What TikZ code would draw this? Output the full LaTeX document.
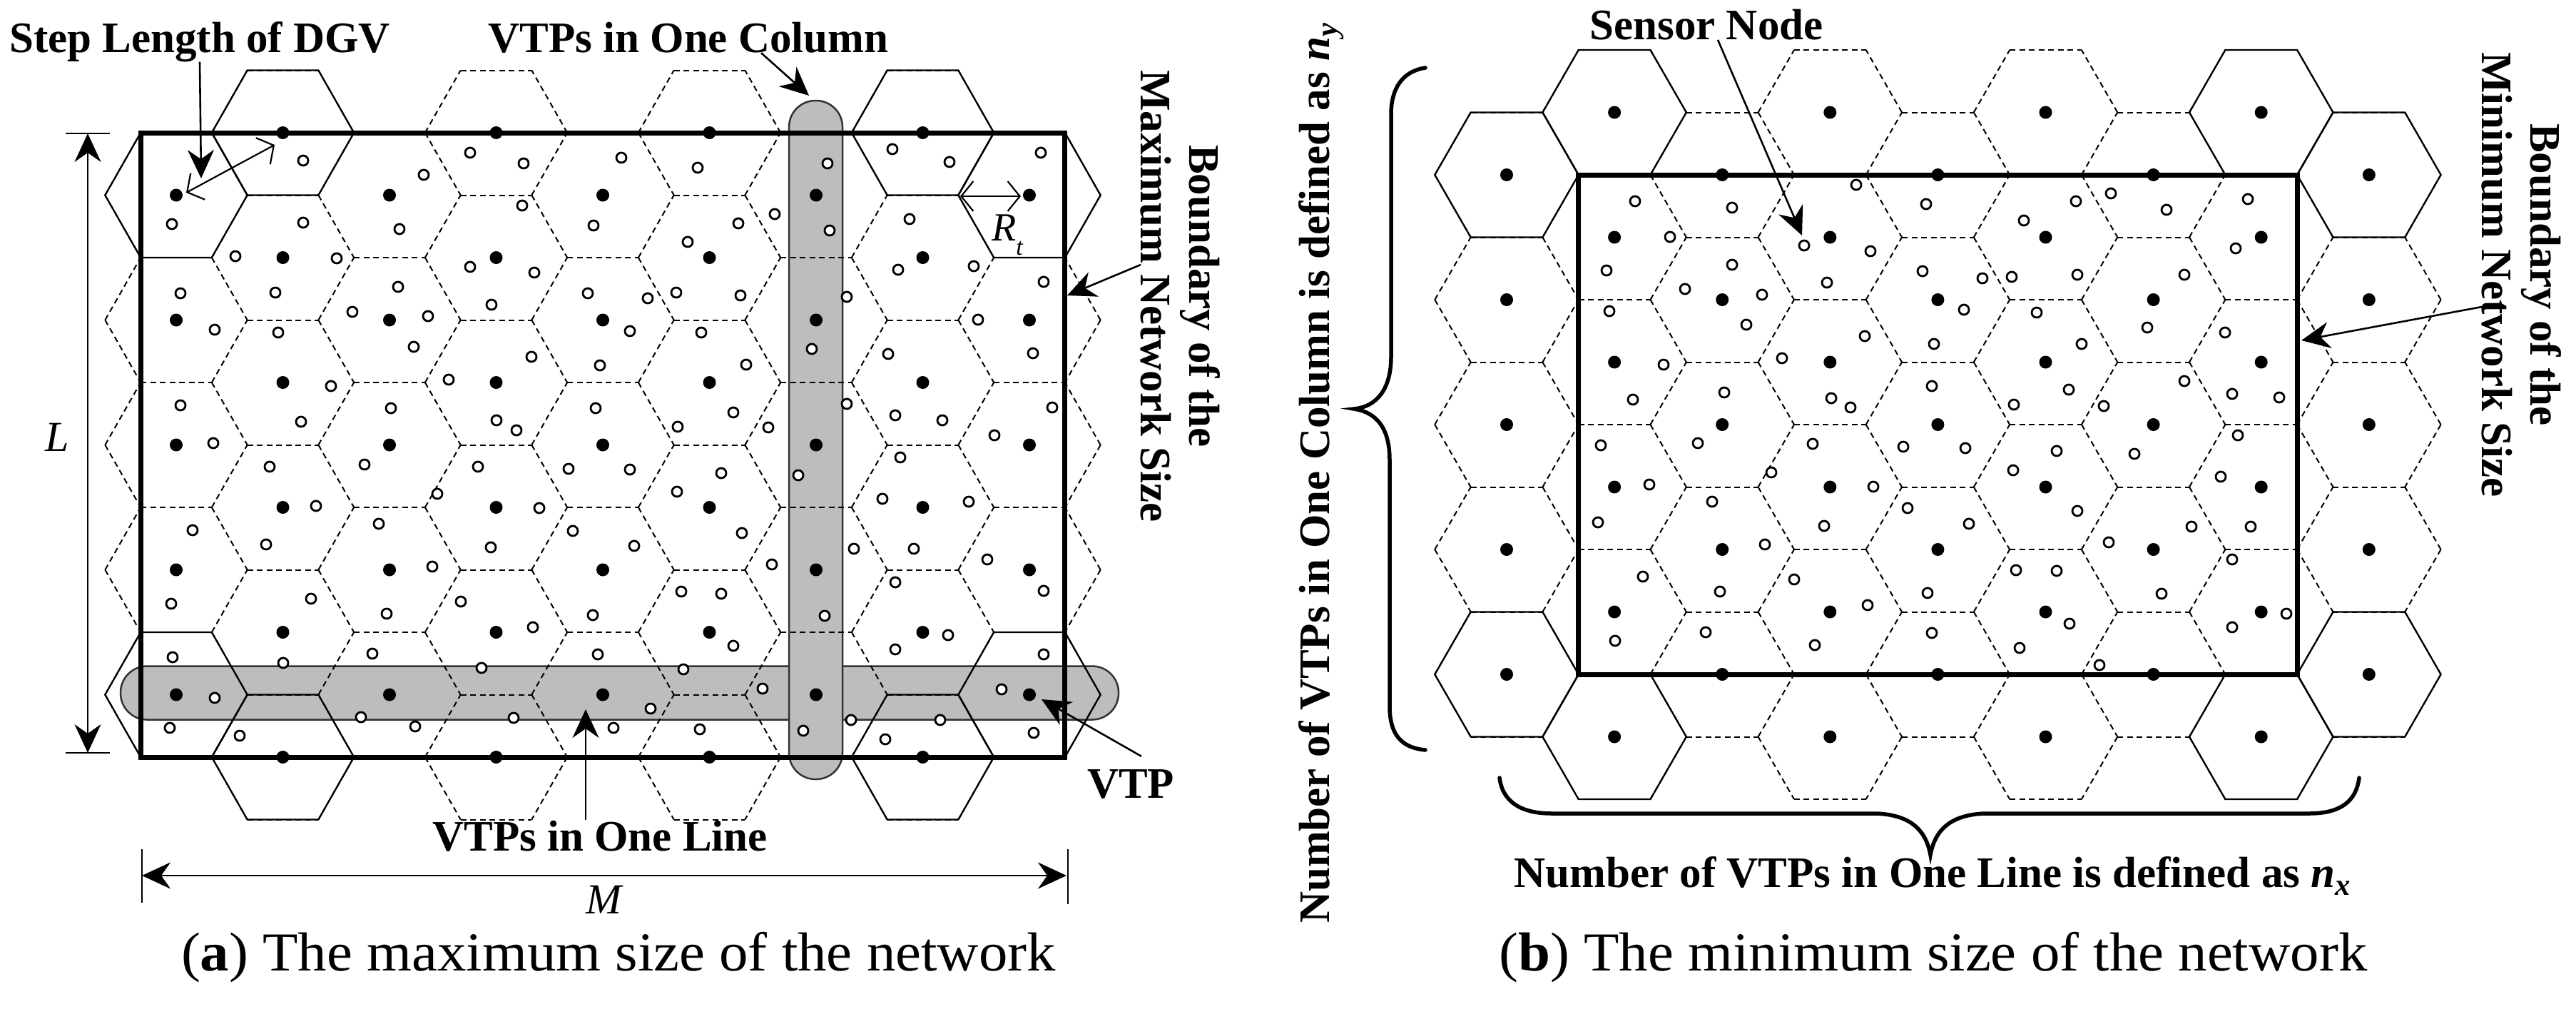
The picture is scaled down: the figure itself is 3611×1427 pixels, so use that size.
\documentclass[tikz,border=0pt]{standalone}
\usepackage{fontspec}
\setmainfont{Liberation Serif}
\usetikzlibrary{arrows.meta}

\tikzset{
  hexd/.style={line width=2pt, dash pattern=on 8pt off 5.5pt, black},
  hexs/.style={line width=2.3pt, black, line join=miter},
  bnd/.style={line width=7pt, black, line join=miter},
  vtp/.style={fill=black},
  sens/.style={draw=black, fill=white, line width=2.8pt},
  bar/.style={fill=black!26, draw=black!80, line width=2.5pt},
  arr/.style={line width=2.6pt, -{Stealth[length=40pt,width=37pt,inset=13pt]}},
  dimarr/.style={line width=2.6pt, {Stealth[length=40pt,width=37pt,inset=13pt]}-{Stealth[length=40pt,width=37pt,inset=13pt]}},
  barb/.style={line width=2.2pt, {Straight Barb[length=17pt,width=42pt]}-{Straight Barb[length=17pt,width=42pt]}},
  extline/.style={line width=2.4pt},
  lbl/.style={font=\fontsize{61}{72}\selectfont\bfseries, inner sep=0pt},
  ital/.style={font=\fontsize{60}{70}\selectfont\itshape, inner sep=0pt},
  capt/.style={font=\fontsize{77}{80}\selectfont, inner sep=0pt},
  brace/.style={line width=5.5pt, line cap=round},
}

\newcommand\hexgridlines[3]{%
  \pgfmathsetmacro\hxR{#3/1.5}%
  \pgfmathsetmacro\hxr{#3/3}%
  \foreach \k in {0,...,8}{%
    \pgfmathsetmacro\cx{#1+\k*#3}%
    \pgfmathtruncatemacro\kodd{mod(\k,2)}%
    \ifnum\kodd=1 \def\nrows{5}\def\yb{#2}\else \def\nrows{4}\pgfmathsetmacro\yb{#2+87.5}\fi
    \foreach \j in {0,...,\nrows}{%
      \pgfmathsetmacro\cy{\yb+\j*175}%
      \draw[hexd] (\cx-\hxr,\cy-87.5) -- (\cx+\hxr,\cy-87.5);
      \draw[hexd] (\cx-\hxR,\cy) -- (\cx-\hxr,\cy-87.5);
      \draw[hexd] (\cx-\hxR,\cy) -- (\cx-\hxr,\cy+87.5);
      \ifnum\j=\nrows \draw[hexd] (\cx-\hxr,\cy+87.5) -- (\cx+\hxr,\cy+87.5);\fi
      \ifnum\k=8
        \draw[hexd] (\cx+\hxR,\cy) -- (\cx+\hxr,\cy-87.5);
        \draw[hexd] (\cx+\hxR,\cy) -- (\cx+\hxr,\cy+87.5);
      \else
        \ifnum\kodd=1
          \ifnum\j=0 \draw[hexd] (\cx+\hxR,\cy) -- (\cx+\hxr,\cy-87.5);\fi
          \ifnum\j=5 \draw[hexd] (\cx+\hxR,\cy) -- (\cx+\hxr,\cy+87.5);\fi
        \fi
      \fi
    }%
  }%
}

\newcommand\hexgriddots[3]{%
  \foreach \k in {0,...,8}{%
    \pgfmathsetmacro\cx{#1+\k*#3}%
    \pgfmathtruncatemacro\kodd{mod(\k,2)}%
    \ifnum\kodd=1 \def\nrows{5}\def\yb{#2}\else \def\nrows{4}\pgfmathsetmacro\yb{#2+87.5}\fi
    \foreach \j in {0,...,\nrows}{%
      \pgfmathsetmacro\cy{\yb+\j*175}%
      \fill[vtp] (\cx,\cy) circle[radius=9pt];
    }%
  }%
}

\newcommand\solidhex[3]{%
  \draw[hexs] (#1+#3,#2) -- (#1+#3/2,#2-87.5) -- (#1-#3/2,#2-87.5) -- (#1-#3,#2)
    -- (#1-#3/2,#2+87.5) -- (#1+#3/2,#2+87.5) -- cycle;}

\begin{document}
\begin{tikzpicture}[x=1pt,y=-1pt]
\useasboundingbox (0,0) rectangle (3611,1427);
\fill[white] (0,0) rectangle (3611,1427);

% ---------------- panel (a) bars
\draw[bar, rounded corners=37pt] (169,933.5) rectangle (1568,1008.5);
\draw[bar, rounded corners=37pt] (1106,141) rectangle (1181,1092);

% ---------------- hex grids
\hexgridlines{247}{186}{149.5}
\hexgridlines{2112}{157.5}{151.1}

\foreach \hx/\hy in {247/273.5, 396.5/186, 1293.5/186, 1443/273.5, 247/973.5, 396.5/1061, 1443/973.5, 1293.5/1061}
  {\solidhex{\hx}{\hy}{99.667}}
\foreach \hx/\hy in {2112/245, 2263.1/157.5, 3169.7/157.5, 3320.8/245, 2112/945, 2263.1/1032.5, 3320.8/945, 3169.7/1032.5}
  {\solidhex{\hx}{\hy}{100.73}}

% ---------------- boundaries
\draw[bnd] (197.2,186) rectangle (1492.8,1061);
\draw[bnd] (2212.7,245) rectangle (3220.1,945);

% ---------------- VTP dots
\hexgriddots{247}{186}{149.5}
\hexgriddots{2112}{157.5}{151.1}

% ---------------- sensor nodes (a)
\foreach \p in {(425,225),(241,314),(425,312),(560,321),(594,245),(659,214),(734,229),(732,288),(871,221),(832,316),(330,359),(472,362),(659,374),(749,382),(253,411),(386,410),(494,437),(558,402),(600,443),(689,427),(824,411),(301,462),(390,466),(580,486),(745,500),(841,512),(629,532),(464,541),
(253,568),(422,591),(548,572),(696,589),(724,603),(835,572),(299,621),(378,654),(511,651),(670,654),(797,657),(883,658),(443,709),(613,692),(756,712),(270,743),(373,763),(531,734),(688,767),(803,744),(889,765),(606,794),(436,839),(240,846),(542,860),(646,843),(831,862),(747,879),(242,921),(397,929),(522,916),(675,936),(838,917),(301,978),(506,1005),(582,1018),(720,1006),(860,1020),(238,1020),(336,1031),
(978,235),(1160,229),(1251,209),(1331,227),(1459,214),(1086,300),(1035,313),(1163,323),(964,339),(1275,307),(1365,373),(1259,378),(1463,395),(908,418),(948,410),(1038,414),(1187,416),(883,464),(983,466),(1138,489),(1371,448),(1448,495),(1046,511),(1245,496),
(1028,578),(950,598),(1077,599),(1187,566),(1255,582),(1321,589),(1475,571),(1394,610),(1262,641),(1011,663),(1119,666),(949,689),(1237,699),(1358,703),(1040,747),(1197,769),(1281,769),(1384,784),(1082,791),(1255,816),(955,829),(1011,832),(1463,828),(1156,863),(1028,905),(1329,890),(1255,910),(1463,917),(958,938),(1069,965),(912,993),(1404,966),(981,1022),(1126,1024),(1193,1009),(1318,1009),(1241,1036),(1449,1027)}
  {\draw[sens] \p circle[radius=7pt];}

% ---------------- sensor nodes (b)
\foreach \p in {(2292,282),(2428,291),(2602,259),(2341,332),(2529,344),(2622,352),(2252,379),(2428,371),(2561,396),(2362,405),(2470,413),(2256,436),(2448,455),(2614,471),(2332,511),(2498,502),(2417,550),(2700,286),(2695,380),
(2910,282),(2959,271),(3037,294),(3151,279),(2837,309),(3134,348),(2779,390),(2820,388),(2912,385),(3062,385),(2753,434),(2855,438),(3010,459),(3119,466),(2711,482),(2918,482),(3062,534),(2708,541),(2900,546),(3129,552),(3195,557),
(2289,560),(2567,558),(2594,571),(2244,624),(2380,621),(2541,622),(2668,626),(2312,679),(2483,662),(2626,682),(2400,703),(2674,712),(2240,732),(2474,763),(2557,737),(2303,808),(2411,829),(2515,812),(2618,848),(2264,898),(2391,886),(2544,904),
(2823,567),(2949,569),(2755,628),(2883,632),(2992,636),(3137,610),(2822,659),(3113,668),(2912,716),(2760,734),(3072,738),(3155,738),(2956,760),(3129,784),(2826,799),(2883,800),(2702,831),(3030,832),(3205,860),(2901,874),(2708,887),(3129,879),(2831,908),(2943,932)}
  {\draw[sens] \p circle[radius=7pt];}

% ---------------- panel (a) labels
\node[lbl, anchor=base] (steptxt) at (280,73) {Step Length of DGV};
\node[lbl, anchor=base] (coltxt) at (965,73) {VTPs in One Column};
\node[lbl, rotate=-90, align=center] (bndAtxt) at (1655,415) {Boundary of the\\[-4pt]Maximum Network Size};
\node[lbl, anchor=base] (vtptxt) at (1585,1118) {VTP};
\node[lbl, anchor=base] (linetxt) at (841,1192) {VTPs in One Line};
\node[ital, anchor=base] (Mlbl) at (846,1280) {M};
\node[ital, anchor=base] (Llbl) at (80,632) {L};
\node[inner sep=0pt, anchor=base west, font=\fontsize{56}{60}\selectfont\itshape] (rtlbl) at (1390,337) {R\raisebox{-20pt}{\fontsize{34}{36}\selectfont t}};
\node[capt, anchor=base] (capA) at (867,1360) {\scalebox{1.05}[1]{(\textbf{a}) The maximum size of the network}};

\coordinate (stepEnd) at (282,250);
\coordinate (stepA) at (261,270);
\coordinate (stepB) at (385,203);
\coordinate (colEnd) at (1134,134);
\coordinate (bndAEnd) at (1496,414);
\coordinate (vtpEnd) at (1460,980);
\coordinate (lineEnd) at (821,994);
\coordinate (rtA) at (1346,275);
\coordinate (rtB) at (1431,275);
\coordinate (Ltop) at (123,187);
\coordinate (Lbot) at (123,1055);
\coordinate (Mleft) at (199,1227);
\coordinate (Mright) at (1495,1227);

\draw[arr] (steptxt.south) -- (stepEnd);
\draw[barb] (stepA) -- (stepB);
\draw[arr] ([xshift=102pt]coltxt.south) -- (colEnd);
\draw[arr] ([yshift=44pt]bndAtxt.south) -- (bndAEnd);
\draw[arr] ([xshift=15pt,yshift=18pt]vtptxt.north) -- (vtpEnd);
\draw[arr] ([xshift=-20pt]linetxt.north) -- (lineEnd);
\draw[barb] (rtA) -- (rtB);

% L dimension
\draw[extline] (92,187) -- (154,187);
\draw[extline] (92,1055) -- (154,1055);
\draw[dimarr, line width=1.8pt] (Ltop) -- (Lbot);
% M dimension
\draw[extline] (199,1190) -- (199,1265);
\draw[extline] (1497,1190) -- (1497,1267);
\draw[dimarr] (Mleft) -- (Mright);

% ---------------- panel (b) labels
\node[lbl, anchor=base] (senstxt) at (2392,55) {Sensor Node};
\node[lbl, rotate=-90, align=center] (bndBtxt) at (3535,385) {Boundary of the\\[-4pt]Minimum Network Size};
\node[lbl, rotate=90] (nytxt) at (1852,663) {Number of VTPs in One Column is defined as \textit{n}\textsubscript{\textit{y}}};
\node[lbl, anchor=base] (nxtxt) at (2709,1243) {Number of VTPs in One Line is defined as \textit{n}\textsubscript{\textit{x}}};
\node[capt, anchor=base] (capB) at (2710,1360) {\scalebox{1.05}[1]{(\textbf{b}) The minimum size of the network}};

\coordinate (sensEnd) at (2526,330);
\coordinate (bndBEnd) at (3226,477);
\draw[arr] ([xshift=16pt]senstxt.south) -- (sensEnd);
\draw[arr] ([yshift=-45pt]bndBtxt.south) -- (bndBEnd);

% braces
\draw[brace] (1998,95) .. controls (1965,100) and (1950,125) .. (1950,160) -- (1950,500)
  .. controls (1950,545) and (1930,570) .. (1898,573)
  .. controls (1930,578) and (1948,600) .. (1948,645) -- (1948,990)
  .. controls (1948,1030) and (1965,1048) .. (1998,1051);
\draw[brace] (2102,1090) .. controls (2106,1122) and (2130,1140) .. (2175,1140) -- (2630,1140)
  .. controls (2680,1142) and (2700,1165) .. (2706,1198)
  .. controls (2712,1165) and (2732,1142) .. (2782,1140) -- (3237,1140)
  .. controls (3282,1140) and (3303,1122) .. (3307,1090);
\end{tikzpicture}
\end{document}
